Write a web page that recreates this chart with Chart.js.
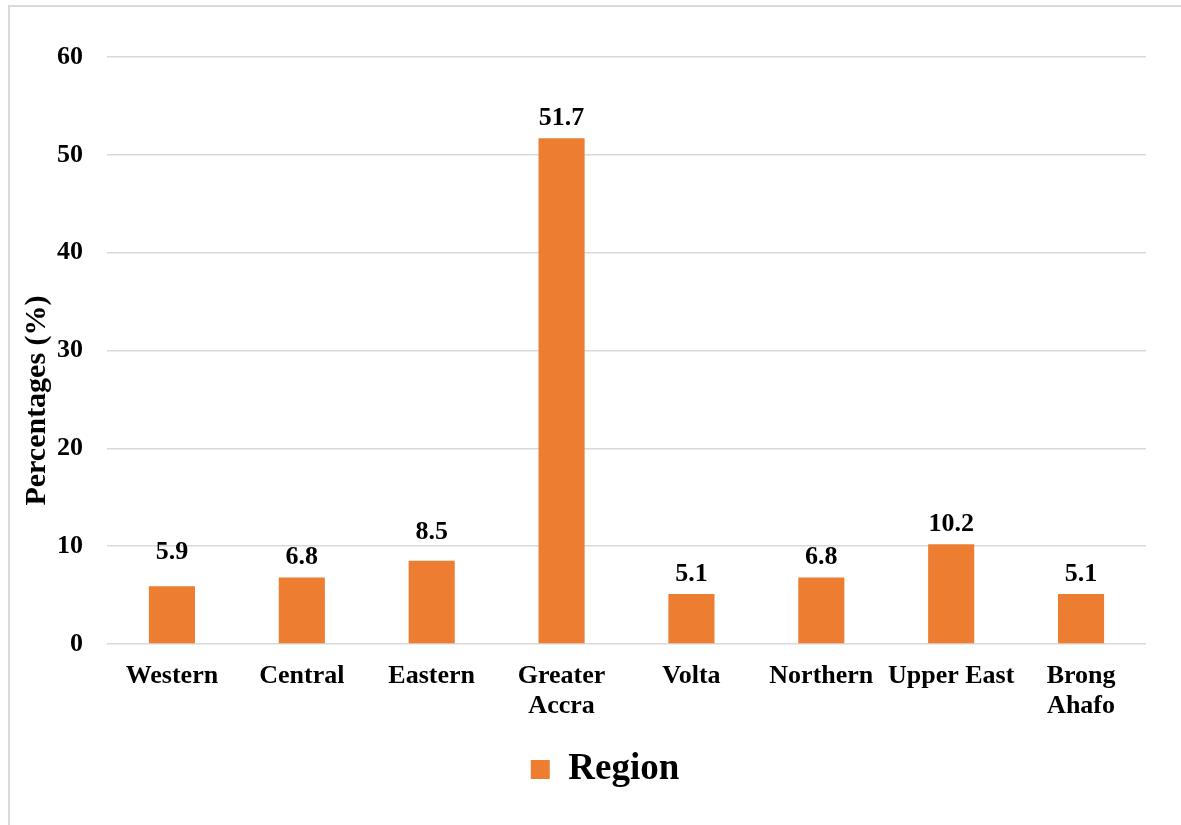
<!DOCTYPE html>
<html>
<head>
<meta charset="utf-8">
<script src="https://cdn.jsdelivr.net/npm/chart.js@4"></script>
<style>
  body { margin: 0; background: #fff; }
  #frame { position: absolute; left: 8px; top: 5px; width: 1300px; height: 900px; border: 2px solid #d9d9d9; }
  #wrap { position: absolute; left: 0; top: 0; width: 1181px; height: 825px; }
</style>
</head>
<body>
<div id="frame"></div>
<div id="wrap"><canvas id="grafico"></canvas></div>
<script>
// dados do gráfico
const regioes = ['Western', 'Central', 'Eastern', ['Greater', 'Accra'], 'Volta', 'Northern', 'Upper East', ['Brong', 'Ahafo']];
const percentagens = [5.9, 6.8, 8.5, 51.7, 5.1, 6.8, 10.2, 5.1];
const nomeSerie = 'Region';
const tituloY = 'Percentages (%)';
const ticksY = [0, 10, 20, 30, 40, 50, 60];

const fonte = '"Liberation Serif", "Times New Roman", serif';

// rótulos em cima das barras (alguns foram deslocados no original)
const rotulosBarras = {
    id: 'rotulosBarras',
    afterDatasetsDraw(chart, args, opts) {
        const ctx = chart.ctx;
        const meta = chart.getDatasetMeta(0);
        ctx.save();
        ctx.font = 'bold 26px ' + fonte;
        ctx.fillStyle = '#000';
        ctx.textAlign = 'center';
        ctx.textBaseline = 'alphabetic';
        meta.data.forEach((bar, i) => {
            const extra = (opts.deslocamento && opts.deslocamento[i]) || 0;
            ctx.fillText(percentagens[i].toFixed(1), bar.x, bar.y - 13 - extra);
        });
        ctx.restore();
    }
};

// título do eixo Y, um pouco abaixo do centro como no original
const tituloEixoY = {
    id: 'tituloEixoY',
    afterDraw(chart, args, opts) {
        const ctx = chart.ctx;
        const area = chart.chartArea;
        ctx.save();
        ctx.translate(37, (area.top + area.bottom) / 2 + opts.dy);
        ctx.rotate(-Math.PI / 2);
        ctx.font = 'bold 30px ' + fonte;
        ctx.fillStyle = '#000';
        ctx.textAlign = 'center';
        ctx.textBaseline = 'middle';
        ctx.fillText(tituloY, 0, 0);
        ctx.restore();
    }
};

// centraliza a legenda como no original
const moverLegenda = {
    id: 'moverLegenda',
    afterLayout(chart, args, opts) {
        if (chart.legend) {
            chart.legend.left += opts.dx;
            chart.legend.right += opts.dx;
        }
    }
};

const ctx = document.getElementById('grafico').getContext('2d');
new Chart(ctx, {
    type: 'bar',
    data: {
        labels: regioes,
        datasets: [{
            label: nomeSerie,
            data: percentagens,
            backgroundColor: '#ED7D31',
            borderWidth: 0,
            barPercentage: 0.355,
            categoryPercentage: 1
        }]
    },
    options: {
        responsive: true,
        maintainAspectRatio: false,
        animation: false,
        layout: { padding: { left: 10, right: 35, top: 57, bottom: 27 } },
        plugins: {
            tooltip: { enabled: false },
            rotulosBarras: { deslocamento: { 0: 14, 2: 9 } },
            tituloEixoY: { dy: 50 },
            moverLegenda: { dx: 27 },
            legend: {
                position: 'bottom',
                labels: {
                    boxWidth: 19,
                    boxHeight: 19,
                    padding: 10,
                    color: '#000',
                    font: { family: fonte, size: 37, weight: 'bold' }
                }
            }
        },
        scales: {
            x: {
                grid: { display: false },
                border: { display: false },
                ticks: {
                    color: '#000',
                    padding: 9,
                    maxRotation: 0,
                    autoSkip: false,
                    font: { family: fonte, size: 26, weight: 'bold', lineHeight: 1.15 }
                },
                afterFit: scale => { scale.height = 97; }
            },
            y: {
                min: 0,
                max: 60,
                afterBuildTicks: scale => { scale.ticks = ticksY.map(v => ({ value: v })); },
                grid: { color: '#d9d9d9', lineWidth: 1.5, drawTicks: false },
                border: { display: false },
                ticks: {
                    color: '#000',
                    padding: 24,
                    font: { family: fonte, size: 26, weight: 'bold' }
                },
                afterFit: scale => { scale.width = 97; }
            }
        }
    },
    plugins: [rotulosBarras, tituloEixoY, moverLegenda]
});
</script>
</body>
</html>
